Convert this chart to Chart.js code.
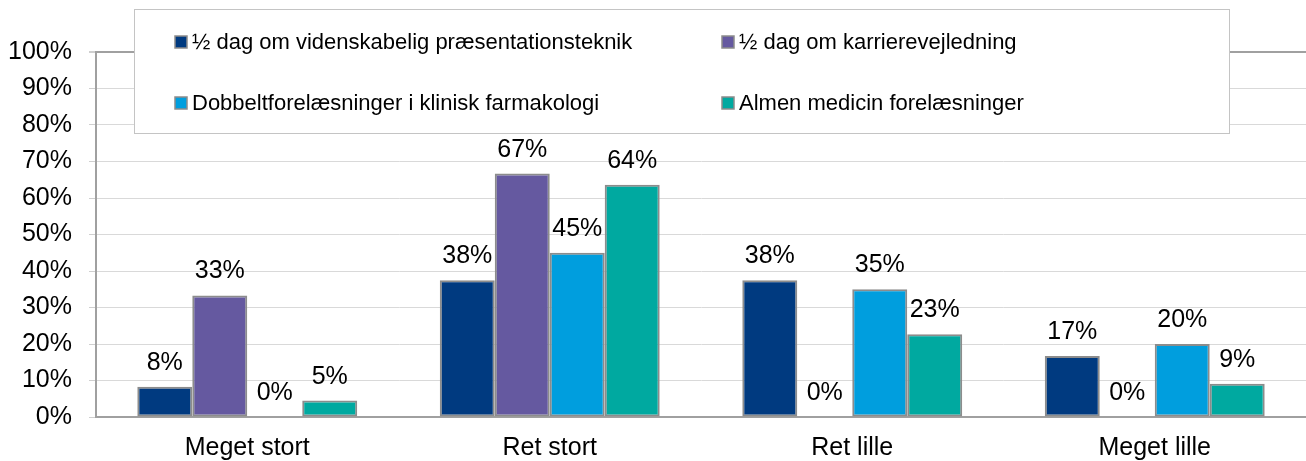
<!DOCTYPE html>
<html lang="da">
<head>
<meta charset="UTF-8">
<title>Udbytte</title>
<script src="https://cdn.jsdelivr.net/npm/chart.js"></script>
<style>
  body { margin: 0; background: #fff; }
  .boks { width: 1306px; height: 461px; position: relative; }
</style>
</head>
<body>
<div class="boks"><canvas id="udbytte"></canvas></div>
<script>
  // kategorier og serier (procent)
  var kategorier = ["Meget stort", "Ret stort", "Ret lille", "Meget lille"];
  var serieNavne = [
    "½ dag om videnskabelig præsentationsteknik",
    "½ dag om karrierevejledning",
    "Dobbeltforelæsninger i klinisk farmakologi",
    "Almen medicin forelæsninger"
  ];
  var praesentation = [8.3, 37.5, 37.5, 16.7];
  var karriere = [33.3, 66.7, 0, 0];
  var farmakologi = [0, 45, 35, 20];
  var almenMedicin = [4.5, 63.6, 22.7, 9.1];
  var yTicks = [0, 10, 20, 30, 40, 50, 60, 70, 80, 90, 100];

  var farver = ["#003A80", "#6559A0", "#009EDE", "#00A9A0"];
  var skrift = '"Liberation Sans", Arial, sans-serif';

  // tal over hver søjle
  const vaerdiEtiketter = {
    id: "vaerdiEtiketter",
    afterDatasetsDraw(chart) {
      const ctx = chart.ctx;
      ctx.save();
      ctx.font = "25px " + skrift;
      ctx.fillStyle = "#000";
      ctx.textAlign = "center";
      ctx.textBaseline = "alphabetic";
      chart.data.datasets.forEach(function (ds, i) {
        chart.getDatasetMeta(i).data.forEach(function (bar, j) {
          ctx.fillText(Math.round(ds.data[j]) + "%", bar.x, bar.y - 17);
        });
      });
      ctx.restore();
    }
  };

  // forklaring i boks oven på plotområdet
  const forklaring = {
    id: "forklaring",
    afterDraw(chart) {
      const ctx = chart.ctx;
      ctx.save();
      ctx.fillStyle = "#fff";
      ctx.fillRect(134, 9, 1095, 124);
      ctx.strokeStyle = "#c4c4c4";
      ctx.lineWidth = 1;
      ctx.strokeRect(134.5, 9.5, 1095, 124);
      var kolonner = [175, 722];
      var raekker = [42, 103];
      ctx.font = "22px " + skrift;
      ctx.textBaseline = "middle";
      chart.data.datasets.forEach(function (ds, i) {
        var x = kolonner[i % 2];
        var y = raekker[Math.floor(i / 2)];
        ctx.fillStyle = ds.backgroundColor;
        ctx.fillRect(x, y - 6, 12, 12);
        ctx.strokeStyle = "#8c8c8c";
        ctx.lineWidth = 1.5;
        ctx.strokeRect(x, y - 6, 12, 12);
        ctx.fillStyle = "#000";
        ctx.fillText(ds.label, x + 17, y + 1);
      });
      ctx.restore();
    }
  };

  var serier = [praesentation, karriere, farmakologi, almenMedicin];

  new Chart(document.getElementById("udbytte"), {
    type: "bar",
    data: {
      labels: kategorier,
      datasets: serier.map(function (d, i) {
        return {
          label: serieNavne[i],
          data: d,
          backgroundColor: farver[i],
          borderColor: "#8c8c8c",
          borderWidth: 2,
          borderSkipped: false,
          categoryPercentage: 0.727,
          barPercentage: 1
        };
      })
    },
    options: {
      responsive: true,
      maintainAspectRatio: false,
      animation: false,
      layout: { padding: { top: 52, right: 0, bottom: 0, left: 0 } },
      plugins: {
        legend: { display: false },
        tooltip: { enabled: false }
      },
      scales: {
        x: {
          afterFit: function (scale) { scale.height = 44; },
          grid: { display: false, drawTicks: false },
          border: { display: true, color: "#a0a0a0", width: 2 },
          ticks: { color: "#000", padding: 16, font: { family: skrift, size: 25 } }
        },
        y: {
          min: 0,
          max: 100,
          afterFit: function (scale) { scale.width = 96; },
          afterBuildTicks: function (scale) {
            scale.ticks = yTicks.map(function (v) { return { value: v }; });
          },
          grid: {
            color: function (c) { return c.tick && c.tick.value === 100 ? "#a0a0a0" : "#d9d9d9"; },
            lineWidth: function (c) { return c.tick && c.tick.value === 100 ? 2 : 1; },
            tickColor: "#cfcfcf",
            tickLength: 7
          },
          border: { display: true, color: "#a0a0a0", width: 2 },
          ticks: {
            color: "#000",
            padding: 17,
            font: { family: skrift, size: 25 },
            callback: function (v) { return v + "%"; }
          }
        }
      }
    },
    plugins: [vaerdiEtiketter, forklaring]
  });
</script>
</body>
</html>
